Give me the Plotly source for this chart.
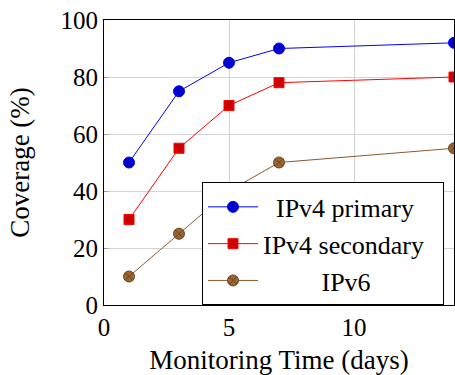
import plotly.graph_objects as go

days = [1, 3, 5, 7, 14]
ipv4_primary = [50, 75, 85, 90, 92]
ipv4_secondary = [30, 55, 70, 78, 80]
ipv6 = [10, 25, 40, 50, 55]

x_ticks = [0, 5, 10]
y_ticks = [0, 20, 40, 60, 80, 100]

FONT = "Liberation Serif"
NB = "\u00a0"

fig = go.Figure()
fig.add_trace(go.Scatter(
    x=days, y=ipv4_primary, mode="lines+markers", name=NB * 2 + "IPv4 primary",
    line=dict(color="#0000ff", width=1),
    marker=dict(symbol="circle", size=11, color="#0000cc", line=dict(color="#0000ff", width=1)),
))
fig.add_trace(go.Scatter(
    x=days, y=ipv4_secondary, mode="lines+markers", name="IPv4 secondary" + NB * 2,
    line=dict(color="#ff0000", width=1),
    marker=dict(symbol="square", size=10, color="#cc0000", line=dict(color="#ff0000", width=1)),
))
fig.add_trace(go.Scatter(
    x=days, y=ipv6, mode="lines+markers", name=NB * 9 + "IPv6",
    line=dict(color="#8b5a2b", width=1),
    marker=dict(symbol="circle-x", size=11, color="#996633", line=dict(color="#6b4520", width=1)),
))

axis_common = dict(
    showgrid=True, gridcolor="#d3d3d3", gridwidth=1,
    showline=True, linecolor="black", linewidth=1, mirror=True,
    ticks="inside", ticklen=4, tickcolor="#999999",
    zeroline=False, automargin=False,
    tickfont=dict(family=FONT, size=25, color="black"),
    ticklabeloverflow="allow",
)

fig.update_xaxes(range=[0, 14], tickvals=x_ticks,
                 title=dict(text="Monitoring Time (days)", font=dict(family=FONT, size=27, color="black"), standoff=10),
                 **axis_common)
fig.update_yaxes(range=[0, 100], tickvals=y_ticks,
                 title=dict(text="Coverage (%)", font=dict(family=FONT, size=27, color="black"), standoff=23),
                 **axis_common)

fig.update_layout(
    width=455, height=375,
    margin=dict(l=104, r=1, t=20, b=70),
    plot_bgcolor="white", paper_bgcolor="white",
    font=dict(family=FONT, color="black"),
    legend=dict(
        x=0.28, y=0.43, xanchor="left", yanchor="top",
        bgcolor="white", bordercolor="black", borderwidth=1,
        font=dict(family=FONT, size=26, color="black"),
        itemwidth=50,
        tracegroupgap=0,
    ),
)

fig.write_html("out.html", config={"displayModeBar": False},
               post_script="document.body.style.margin='0';document.body.style.overflow='hidden';")
